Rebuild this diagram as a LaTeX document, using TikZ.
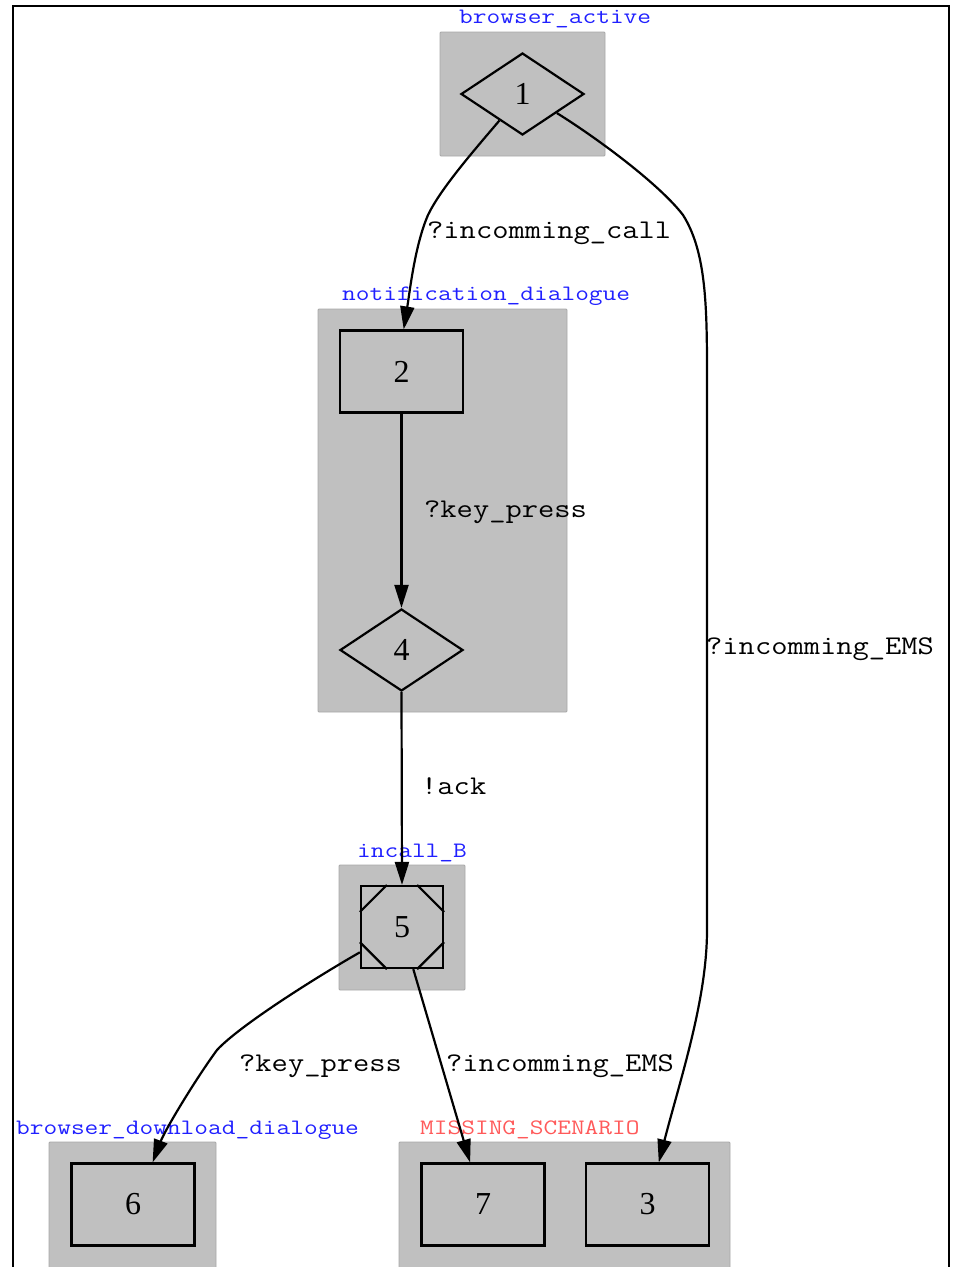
\documentclass[tikz,border=0pt]{standalone}
\usepackage{fontspec}
\usetikzlibrary{shapes.geometric,arrows.meta}
\newfontfamily\numfont{Liberation Serif}
\definecolor{clgray}{HTML}{C0C0C0}
\definecolor{clborder}{HTML}{A8A8A8}
\definecolor{clblue}{HTML}{2020FF}
\definecolor{clred}{HTML}{FF5A5A}
\newcommand{\elab}[1]{\scalebox{1.17}[1]{\fontsize{27}{27}\selectfont\ttfamily #1}}
\newcommand{\clab}[1]{\scalebox{1.21}[1]{\fontsize{22}{22}\selectfont\ttfamily #1}}
\begin{document}
\begin{tikzpicture}[x=1pt,y=-1pt,
  cluster/.style={fill=clgray, draw=clborder, line width=0.8pt, rounded corners=1pt},
  stateshape/.style={draw=black, fill=clgray, line width=2.2pt, inner sep=0pt,
    font=\numfont\fontsize{32}{32}\selectfont},
  statebox/.style={stateshape, rectangle, minimum width=123pt, minimum height=82pt},
  statesq/.style={stateshape, rectangle, minimum width=82pt, minimum height=82pt},
  statediamond/.style={stateshape, diamond, minimum width=123pt, minimum height=82pt},
  edge/.style={line width=2.2pt, -{Triangle[length=23pt,width=14pt]}},
  elabel/.style={anchor=base west, inner sep=0pt},
  clabel/.style={anchor=base west, inner sep=0pt, text=clblue},
  nodeline/.style={line width=2.2pt}]
\useasboundingbox (0,0) rectangle (954,1267);
\clip (0,0) rectangle (954,1267);
\fill[white] (0,0) rectangle (954,1267);
% outer frame
\draw[line width=2.2pt] (13,1300) -- (13,6) -- (949,6) -- (949,1300);
% clusters
\draw[cluster] (440,32) rectangle (605,156);
\draw[cluster] (318,309) rectangle (567,712);
\draw[cluster] (339,865) rectangle (465,990);
\draw[cluster] (49,1142) rectangle (216,1300);
\draw[cluster] (399,1142) rectangle (730,1300);
% cluster labels
\node[clabel] (cl1) at (459,23) {\clab{browser\_active}};
\node[clabel] (cl2) at (342,300) {\clab{notification\_dialogue}};
\node[clabel] (cl3) at (357,857) {\clab{incall\_B}};
\node[clabel] (cl4) at (16,1134) {\clab{browser\_download\_dialogue}};
\node[clabel, text=clred] (cl5) at (420,1134) {\clab{MISSING\_SCENARIO}};
% states
\node[statediamond] (n1) at (522.5,94) {1};
\node[statebox] (n2) at (401.5,371.5) {2};
\node[statediamond] (n4) at (401.5,650) {4};
\node[statesq] (n5) at (402,927) {5};
\node[statebox] (n6) at (133,1204.5) {6};
\node[statebox] (n7) at (483,1204.5) {7};
\node[statebox] (n3) at (647.5,1204.5) {3};
% corner cuts of state 5
\draw[nodeline] (n5.north west) ++(0,27) -- ++(27,-27);
\draw[nodeline] (n5.north east) ++(-27,0) -- ++(27,27);
\draw[nodeline] (n5.south west) ++(0,-27) -- ++(27,27);
\draw[nodeline] (n5.south east) ++(-27,0) -- ++(27,-27);
% edges
\draw[edge] (n1.-131.5) .. controls (470,155) and (440,190) .. (428,215)
  .. controls (415,245) and (410,290) .. (n2.87);
\draw[edge] (n1.-29) .. controls (600,140) and (660,185) .. (683,215)
  .. controls (705,250) and (707,300) .. (707,370) -- (707,930)
  .. controls (707,1000) and (680,1080) .. (n3.75);
\draw[edge] (n2.south) -- (n4.north);
\draw[edge] (n4.south) -- (n5.north);
\draw[edge] (n5.-149.7) .. controls (320,975) and (240,1025) .. (217,1050)
  .. controls (195,1080) and (165,1130) .. (n6.65.4);
\draw[edge] (n5.-75) -- (n7.107);
% edge labels
\node[elabel] (l12) at (427,238) {\elab{?incomming\_call}};
\node[elabel] (l13) at (706,654) {\elab{?incomming\_EMS}};
\node[elabel] (l24) at (424,517) {\elab{?key\_press}};
\node[elabel] (l45) at (421,794) {\elab{!ack}};
\node[elabel] (l56) at (239,1071) {\elab{?key\_press}};
\node[elabel] (l57) at (446,1071) {\elab{?incomming\_EMS}};
\end{tikzpicture}
\end{document}
